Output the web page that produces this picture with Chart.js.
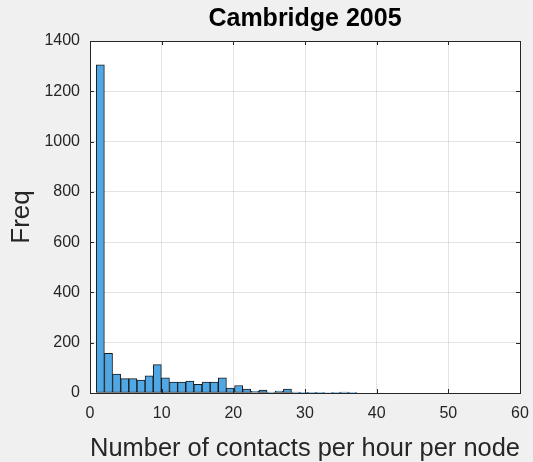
<!DOCTYPE html>
<html>
<head>
<meta charset="utf-8">
<script src="https://cdn.jsdelivr.net/npm/chart.js@4/dist/chart.umd.min.js"></script>
<style>
  html, body { margin: 0; padding: 0; background: #f0f0f0; }
  canvas { display: block; }
</style>
</head>
<body>
<canvas id="histChart" width="533" height="462"></canvas>
<script>
// bin centres (contacts per hour per node) and counts
const binCenters = [1.44, 2.58, 3.71, 4.85, 5.98, 7.12, 8.25, 9.39, 10.52, 11.66,
    12.79, 13.93, 15.06, 16.20, 17.33, 18.47, 19.60, 20.74, 21.87, 23.01,
    24.14, 25.28, 26.41, 27.55, 28.68, 29.82, 30.95, 32.09, 33.22, 34.36,
    35.49, 36.63];
const binCounts = [1305, 158, 75, 57, 57, 51, 68, 113, 60, 43,
    43, 47, 34, 43, 43, 60, 20, 30, 16, 7,
    12, 4, 8, 16, 4, 3, 3, 3, 2, 1,
    4, 1];
const xTicks = [0, 10, 20, 30, 40, 50, 60];
const yTicks = [0, 200, 400, 600, 800, 1000, 1200, 1400];

const FONT = "'Liberation Sans', Arial, sans-serif";
const AXIS_COLOR = '#262626';

// MATLAB style box with inward tick marks
const boxPlugin = {
    id: 'matlabBox',
    beforeDraw(chart) {
        const a = chart.chartArea;
        const ctx = chart.ctx;
        ctx.save();
        ctx.fillStyle = '#ffffff';
        ctx.fillRect(a.left, a.top, a.right - a.left, a.bottom - a.top);
        ctx.restore();
    },
    afterDatasetsDraw(chart) {
        const a = chart.chartArea;
        const ctx = chart.ctx;
        const x = chart.scales.x;
        const y = chart.scales.y;
        const len = 4;
        ctx.save();
        ctx.strokeStyle = AXIS_COLOR;
        ctx.lineWidth = 1;
        ctx.beginPath();
        xTicks.forEach(v => {
            const px = Math.round(x.getPixelForValue(v)) + 0.5;
            ctx.moveTo(px, a.bottom); ctx.lineTo(px, a.bottom - len);
            ctx.moveTo(px, a.top); ctx.lineTo(px, a.top + len);
        });
        yTicks.forEach(v => {
            const py = Math.round(y.getPixelForValue(v)) + 0.5;
            ctx.moveTo(a.left, py); ctx.lineTo(a.left + len, py);
            ctx.moveTo(a.right, py); ctx.lineTo(a.right - len, py);
        });
        ctx.stroke();
        ctx.strokeRect(Math.round(a.left) + 0.5, Math.round(a.top) + 0.5,
            Math.round(a.right - a.left), Math.round(a.bottom - a.top));
        ctx.restore();
    }
};

new Chart(document.getElementById('histChart'), {
    type: 'bar',
    data: {
        datasets: [{
            label: 'Freq',
            data: binCenters.map((c, i) => ({ x: c, y: binCounts[i] })),
            backgroundColor: '#4fa7e6',
            borderColor: '#1a1a1a',
            borderWidth: 1,
            borderSkipped: false,
            barPercentage: 1,
            categoryPercentage: 1,
            grouped: false
        }]
    },
    options: {
        responsive: false,
        animation: false,
        devicePixelRatio: 1,
        layout: { padding: { left: 0, right: 13, top: 0, bottom: 0 } },
        plugins: {
            legend: { display: false },
            tooltip: { enabled: false },
            title: {
                display: true,
                text: 'Cambridge 2005',
                fullSize: false,
                color: '#000000',
                font: { family: FONT, size: 25, weight: 'bold', lineHeight: 1.2 },
                padding: { top: 4, bottom: 7 }
            }
        },
        scales: {
            x: {
                type: 'linear',
                offset: false,
                min: 0,
                max: 60,
                afterFit(scale) {
                    scale.height = 69;
                    scale.paddingLeft = 0;
                    scale.paddingRight = 0;
                },
                afterBuildTicks(scale) { scale.ticks = xTicks.map(v => ({ value: v })); },
                ticks: {
                    color: AXIS_COLOR,
                    font: { family: FONT, size: 16 },
                    padding: 11,
                    maxRotation: 0,
                    callback: v => String(v)
                },
                grid: { color: 'rgba(38,38,38,0.13)', drawTicks: false, offset: false },
                border: { display: false },
                title: {
                    display: true,
                    text: 'Number of contacts per hour per node',
                    color: AXIS_COLOR,
                    font: { family: FONT, size: 26, lineHeight: 1 },
                    padding: { top: 0, bottom: 0 }
                }
            },
            y: {
                min: 0,
                max: 1400,
                afterFit(scale) {
                    scale.width = 90;
                    scale.paddingTop = 0;
                    scale.paddingBottom = 0;
                },
                afterBuildTicks(scale) { scale.ticks = yTicks.map(v => ({ value: v })); },
                ticks: {
                    color: AXIS_COLOR,
                    font: { family: FONT, size: 16 },
                    padding: 10,
                    callback: v => String(v)
                },
                grid: { color: 'rgba(38,38,38,0.13)', drawTicks: false },
                border: { display: false },
                title: {
                    display: true,
                    text: 'Freq',
                    color: AXIS_COLOR,
                    font: { family: FONT, size: 26, lineHeight: 1.2 },
                    padding: { top: 6, bottom: 0 }
                }
            }
        }
    },
    plugins: [boxPlugin]
});
</script>
</body>
</html>
